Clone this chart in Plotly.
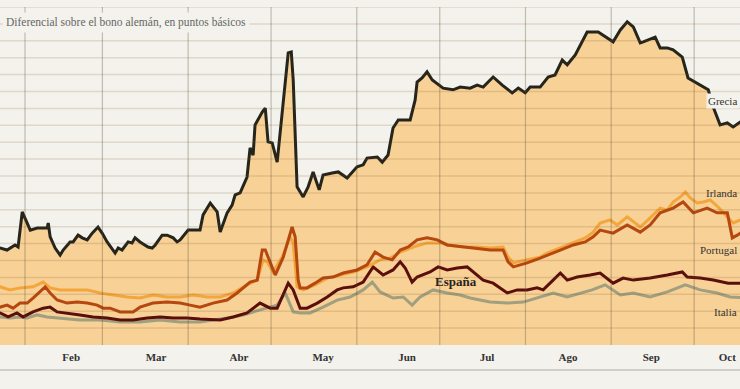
import pandas as pd
import plotly.graph_objects as go

BASE = pd.Timestamp("2010-01-01")

# Day of year (0 = 1 Jan 2010) and spread in basis points
GRECIA_DIA = [20, 22.0, 24.5, 27.4, 28.5, 30.0, 32.9, 35.4, 39.0, 39.4, 40.1, 41.9, 43.7, 44.8, 47.3, 48.4, 50.2,
              51.7, 53.5, 55.3, 57.4, 58.9, 60.7, 62.9, 63.6, 64.7, 66.1, 68.3, 69.7, 70.8, 72.6, 75.5, 77.0,
              78.1, 80.6, 82.4, 84.6, 86.0, 87.1, 90.0, 94.3, 95.4, 98.0, 100.5, 101.6, 104.1, 105.9, 107.0,
              108.8, 111.3, 112.4, 113.5, 114.2, 116.8, 117.9, 118.9, 120.4, 122.2, 123.3, 125.1, 126.2, 127.3,
              128.0, 129.4, 131.6, 133.4, 135.2, 137.4, 138.8, 142.1, 144.3, 147.5, 151.1, 153.3, 154.7, 158.4,
              160.2, 162.3, 164.1, 166.0, 170.3, 172.1, 172.8, 174.6, 176.4, 178.3, 182.2, 185.8, 188.4, 192.0,
              194.5, 196.7, 200.3, 203.6, 207.2, 209.4, 211.9, 213.7, 217.3, 220.2, 222.7, 225.3, 227.1, 230.0,
              234.3, 238.3, 241.6, 243.7, 246.3, 248.8, 251.0, 252.4, 253.5, 254.6, 258.9, 260.7, 263.3, 265.4,
              268.7, 270.8, 273.4, 278.1, 279.9, 282.4, 285.0, 287.1, 289.7, 292]
GRECIA_PB = [285, 287, 281, 296, 290, 394, 340, 346, 346, 361, 320, 287, 266, 281, 305, 305, 325,
             317, 311, 331, 349, 331, 305, 281, 272, 287, 281, 305, 302, 317, 305, 290, 287,
             296, 325, 325, 317, 305, 311, 340, 340, 385, 420, 394, 334, 391, 414, 444,
             450, 497, 583, 562, 651, 689, 701, 601, 598, 541, 627, 775, 864, 867,
             784, 468, 438, 468, 512, 459, 503, 509, 512, 494, 527, 533, 553, 556,
             541, 562, 642, 666, 666, 725, 778, 790, 808, 784, 760, 755, 763, 760,
             769, 763, 793, 769, 746, 760, 746, 763, 763, 793, 799, 843, 829, 858,
             926, 926, 908, 897, 932, 956, 941, 917, 894, 897, 911, 879, 879, 873,
             852, 790, 778, 755, 704, 651, 657, 645, 660, 660]

IRLANDA_DIA = [20, 22.0, 25.6, 29.2, 33.9, 37.6, 40.1, 43.7, 48.4, 53.5, 58.2, 62.9, 67.9, 72.6, 77.3, 82.4,
               87.1, 91.8, 96.9, 101.6, 106.3, 111.3, 115.0, 117.1, 118.6, 120.7, 124.0, 126.9, 128.0, 129.4,
               131.6, 135.9, 140.3, 145.0, 149.7, 154.7, 159.4, 163.1, 166.7, 171.4, 176.4, 181.1, 183.7,
               189.5, 194.5, 199.2, 203.9, 205.7, 207.6, 212.6, 217.3, 219.8, 224.6, 229.3, 233.6, 236.5,
               239.0, 242.6, 245.2, 248.8, 253.5, 257.1, 260.7, 263.3, 265.4, 268.0, 269.8, 271.6, 274.1,
               276.3, 278.8, 281.7, 285.3, 287.1, 289.7, 292]
IRLANDA_PB = [172, 172, 163, 169, 172, 186, 169, 163, 163, 163, 154, 148, 142, 139, 148, 142,
              142, 148, 142, 142, 154, 178, 192, 252, 246, 216, 260, 320, 302, 172,
              163, 178, 198, 207, 216, 231, 252, 257, 275, 290, 302, 302, 296,
              290, 290, 287, 290, 260, 243, 252, 260, 272, 287, 302, 317, 334,
              361, 370, 355, 379, 349, 376, 405, 399, 423, 438, 453, 435, 420,
              423, 429, 408, 376, 361, 370, 370]

PORTUGAL_DIA = [20, 22.0, 24.5, 26.7, 29.2, 31.8, 33.9, 36.5, 38.3, 40.1, 42.6, 46.2, 49.9, 53.5, 57.1, 59.3,
                61.8, 65.4, 70.1, 72.6, 77.3, 82.4, 87.1, 90.7, 94.3, 99.0, 104.1, 107.7, 112.4, 115.0, 116.8,
                117.9, 119.7, 121.5, 124.4, 127.6, 128.7, 129.8, 130.5, 133.0, 135.9, 138.8, 142.4, 146.1,
                151.1, 154.7, 157.6, 160.5, 163.8, 166.7, 169.6, 172.8, 176.4, 180.1, 183.7, 189.5, 194.5,
                199.2, 203.9, 205.7, 207.6, 212.6, 217.3, 219.8, 224.6, 229.3, 233.6, 236.5, 239.0, 243.7,
                248.8, 253.5, 257.1, 260.7, 265.4, 269.0, 272.7, 277.7, 281.3, 285.0, 286.8, 288.6, 289.7, 292]
PORTUGAL_PB = [112, 112, 118, 109, 124, 124, 139, 157, 172, 154, 133, 124, 127, 124, 118, 109,
               109, 98, 98, 112, 124, 127, 124, 118, 112, 124, 133, 154, 186, 192, 281,
               281, 243, 207, 260, 349, 320, 192, 169, 169, 183, 198, 201, 213,
               222, 237, 275, 260, 252, 281, 290, 311, 317, 311, 296, 290, 287,
               281, 281, 246, 231, 243, 257, 266, 281, 296, 305, 320, 340, 331,
               355, 334, 355, 391, 405, 423, 391, 405, 391, 391, 317, 325, 331, 334]

ESPANA_DIA = [20, 22.0, 24.9, 28.1, 30.3, 33.9, 37.6, 40.1, 42.6, 46.2, 50.9, 55.6, 60.7, 65.4, 70.1, 75.2,
              79.9, 84.6, 89.6, 94.3, 101.6, 106.3, 111.3, 116.0, 119.7, 122.2, 126.2, 128.0, 130.5, 133.0,
              136.7, 140.3, 143.9, 146.1, 149.7, 153.3, 156.9, 160.5, 164.1, 166.7, 168.5, 171.0, 172.8,
              177.5, 180.4, 183.7, 187.3, 190.9, 193.1, 196.7, 200.3, 205.4, 209.0, 212.6, 216.2, 218.4,
              222.0, 224.6, 227.1, 230.7, 235.4, 239.0, 243.7, 247.3, 251.0, 257.1, 263.3, 268.7, 270.5,
              275.2, 279.9, 285.3, 289.7, 292]
ESPANA_PB = [95, 95, 83, 95, 83, 98, 109, 112, 98, 95, 89, 83, 80, 74, 74, 80,
             83, 80, 80, 77, 74, 83, 95, 124, 109, 109, 183, 163, 109, 109,
             124, 142, 163, 169, 172, 186, 231, 207, 222, 246, 228, 186, 201,
             216, 231, 222, 228, 231, 216, 192, 183, 154, 163, 163, 169, 163,
             192, 213, 192, 201, 207, 213, 183, 198, 192, 198, 207, 216, 201,
             198, 192, 183, 183, 183]

ITALIA_DIA = [20, 22.0, 25.6, 29.2, 31.8, 35.4, 39.0, 43.7, 50.9, 58.2, 65.4, 72.6, 79.9, 87.1, 94.3, 104.1,
              109.9, 116.0, 122.2, 125.1, 128.0, 130.5, 134.1, 138.8, 143.9, 148.6, 153.3, 156.6, 159.4,
              164.1, 167.8, 171.0, 173.9, 178.6, 183.7, 188.4, 192.0, 199.2, 205.4, 211.2, 216.2, 222.0,
              227.1, 231.8, 236.1, 240.8, 246.3, 251.0, 257.1, 263.3, 269.8, 275.2, 281.3, 286.0, 289.7, 292]
ITALIA_PB = [83, 83, 80, 83, 80, 89, 83, 80, 74, 74, 68, 68, 74, 68, 68, 80,
             89, 104, 118, 154, 98, 95, 95, 112, 133, 142, 163, 186, 157,
             139, 142, 118, 142, 163, 154, 148, 139, 127, 124, 127, 139, 154,
             142, 154, 163, 178, 148, 154, 142, 157, 178, 163, 154, 142, 139, 139]

MESES = ["Feb", "Mar", "Abr", "May", "Jun", "Jul", "Ago", "Sep", "Oct"]
MESES_DIA = [47.7, 78.4, 108.4, 138.8, 169.2, 198.1, 227.4, 257.5, 285.0]
INICIO_MES = ["2010-02-01", "2010-03-01", "2010-04-01", "2010-05-01", "2010-06-01",
              "2010-07-01", "2010-08-01", "2010-09-01", "2010-10-01"]


def fechas(dias):
    return [BASE + pd.Timedelta(days=d) for d in dias]


BG = "#f3f2ec"
FILL = "#f8d196"
SERIF = "Liberation Serif, DejaVu Serif, serif"

fig = go.Figure()
fig.add_trace(go.Scatter(x=fechas(GRECIA_DIA), y=GRECIA_PB, mode="lines", fill="tozeroy",
                         fillcolor=FILL, line=dict(color="#26251b", width=3), name="Grecia"))
fig.add_trace(go.Scatter(x=fechas(ITALIA_DIA), y=ITALIA_PB, mode="lines",
                         line=dict(color="#a09f80", width=3), name="Italia"))
fig.add_trace(go.Scatter(x=fechas(ESPANA_DIA), y=ESPANA_PB, mode="lines",
                         line=dict(color="#5a0f0c", width=3), name="España"))
fig.add_trace(go.Scatter(x=fechas(IRLANDA_DIA), y=IRLANDA_PB, mode="lines",
                         line=dict(color="#f3a63c", width=3), name="Irlanda"))
fig.add_trace(go.Scatter(x=fechas(PORTUGAL_DIA), y=PORTUGAL_PB, mode="lines",
                         line=dict(color="#b5470f", width=3), name="Portugal"))

shapes = []
for v in range(50, 1001, 50):
    shapes.append(dict(type="line", xref="paper", x0=0, x1=1, yref="y", y0=v, y1=v,
                       line=dict(color="rgba(120,85,40,0.17)", width=1.5), layer="above"))
for d in INICIO_MES:
    shapes.append(dict(type="line", xref="x", x0=d, x1=d, yref="paper", y0=0, y1=1,
                       line=dict(color="rgba(90,75,50,0.33)", width=1.2), layer="above"))
shapes.append(dict(type="line", xref="paper", x0=0, x1=1, yref="paper", y0=-0.074, y1=-0.074,
                   line=dict(color="#d0cfc8", width=2)))

LABEL_FONT = dict(family=SERIF, size=11, color="#333")
ann = [
    dict(text="Diferencial sobre el bono alemán, en puntos básicos", xref="paper", yref="paper",
         x=0.003, y=0.9527, xanchor="left", yanchor="middle", showarrow=False,
         font=dict(family=SERIF, size=11.5, color="#666"), bgcolor=BG, borderpad=3),
    dict(text="Grecia", xref="paper", yref="paper", x=0.998, y=0.722, xanchor="right",
         yanchor="middle", showarrow=False, font=LABEL_FONT, bgcolor=BG, borderpad=1),
    dict(text="Irlanda", xref="paper", yref="paper", x=0.998, y=0.449, xanchor="right",
         yanchor="middle", showarrow=False, font=LABEL_FONT),
    dict(text="Portugal", xref="paper", yref="paper", x=0.998, y=0.281, xanchor="right",
         yanchor="middle", showarrow=False, font=LABEL_FONT),
    dict(text="Italia", xref="paper", yref="paper", x=0.998, y=0.0976, xanchor="right",
         yanchor="middle", showarrow=False, font=LABEL_FONT),
    dict(text="<b>España</b>", xref="paper", yref="paper", x=0.616, y=0.189, xanchor="center",
         yanchor="middle", showarrow=False, font=dict(family=SERIF, size=13, color="#2a2320")),
]

fig.update_layout(
    width=740, height=389,
    margin=dict(l=0, r=0, t=7, b=44),
    paper_bgcolor=BG, plot_bgcolor=BG,
    showlegend=False,
    shapes=shapes,
    annotations=ann,
    xaxis=dict(type="date", range=["2010-01-22 23:00", "2010-10-17 14:00"],
               showgrid=False, zeroline=False, showline=False, ticks="",
               ticklabelstandoff=4,
               tickvals=fechas(MESES_DIA), ticktext=[f"<b>{m}</b>" for m in MESES],
               tickfont=dict(family=SERIF, size=11, color="#333")),
    yaxis=dict(range=[0, 1000], showgrid=False, zeroline=False, showticklabels=False,
               showline=False, ticks=""),
)

fig.write_html("out.html", config={"displayModeBar": False},
               post_script="document.body.style.margin='0px';document.body.style.overflow='hidden';")
